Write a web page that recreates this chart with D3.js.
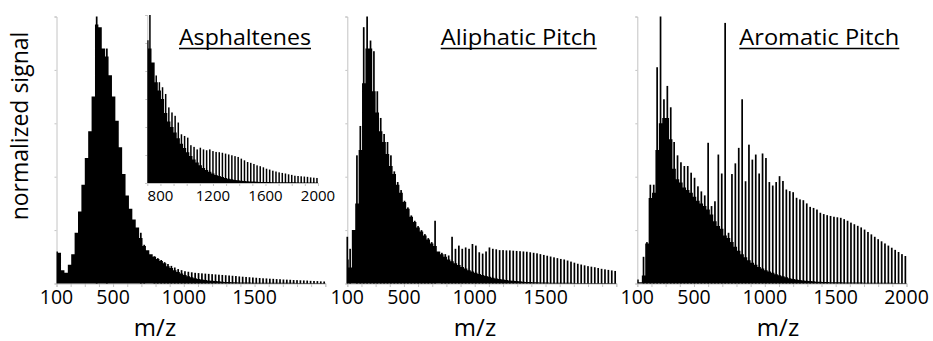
<!DOCTYPE html>
<html><head><meta charset="utf-8">
<script src="https://cdn.jsdelivr.net/npm/d3@7"></script>
<style>
body{margin:0;background:#fff}
text{font-family:"Open Sans","Noto Sans",sans-serif;fill:#000}
</style>
</head><body>
<svg id="chart" width="933" height="341"></svg>
<script>
// m/z grid (C2 spacing, 24 Da)
const MZ = [96,120,144,168,192,216,240,264,288,312,336,360,384,408,432,456,480,504,528,552,576,600,624,648,672,696,720,744,768,792,816,840,864,888,912,936,960,984,1008,1032,1056,1080,1104,1128,1152,1176,1200,1224,1248,1272,1296,1320,1344,1368,1392,1416,1440,1464,1488,1512,1536,1560,1584,1608,1632,1656,1680,1704,1728,1752,1776,1800,1824,1848,1872,1896,1920,1944,1968,1992];

// Asphaltenes: continuum and cluster peaks (normalized signal, 0-100)
const ASPH_BASE = [12,11.5,5,4,7,11,19,27,37,47,57,70,97,96,88,85,78,70,61,51,41,33,28,24,21,17,14,12.5,11,10,9.2,8.4,7.6,6.5,5.8,5.0,4.3,3.7,3.2,2.7,2.3,2.0,1.7,1.5,1.3,1.1,1.0,0.9,0.8,0.7,0.6,0.55,0.5,0.45,0.4,0.4,0.35,0.35,0.3,0.3,0.3,0.3,0.3,0.3,0.3,0.25,0.25,0.25,0.25,0.25,0.25,0.2,0.2,0.2,0.2,0.2,0.2,0.2,0.2,0.2];
const ASPH_PEAK = [12,11.5,5,4,7,11,19,27,37,47,57,70,100,96,88,88,78,70,61,51,41,33,28,24,21,19,14.5,12.5,11,10.2,9.5,8.8,8,7.3,6.6,6.0,5.4,5.0,4.6,4.4,4.2,4.0,3.9,3.8,3.7,3.6,3.5,3.4,3.3,3.2,3.1,3.0,2.9,2.8,2.65,2.55,2.45,2.35,2.25,2.15,2.05,1.95,1.9,1.8,1.75,1.65,1.6,1.5,1.45,1.4,1.3,1.25,1.2,1.15,1.1,1.0,0.95,0.9,0.8,0.75];

// Aliphatic pitch
const ALIP_BASE = [9,6,20,30,50,75,88,88,72,64,57,53,48.5,44,41,37,34,30.5,28,25,23,21,19.5,18,16.5,15,14,12,11,10,9,8.3,7.6,6.9,6.2,5.6,5,4.5,4,3.6,3.2,2.8,2.5,2.2,1.9,1.7,1.5,1.3,1.1,1.0,0.9,0.8,0.7,0.6,0.55,0.5,0.45,0.4,0.4,0.35,0.3,0.3,0.3,0.25,0.25,0.25,0.25,0.2,0.2,0.2,0.2,0.2,0.2,0.2,0.2,0.2,0.2,0.2,0.2,0.2];
const ALIP_PEAK = [17.5,13,20,48,59,96,100,91,87,72,62,56,53,48,42,38,35,31,28.5,25.5,23.5,21.5,20,18.5,17,15.5,23.5,12,11.5,11,10.5,17.5,13,14.2,13,13.5,13,14.8,14.2,11.7,11.2,12,13.5,13,12.8,12.5,12.5,12.4,12.4,12.3,12.2,12.1,12,11.9,11.7,11.5,11.3,11,10.7,10.4,10.1,9.8,9.5,9.2,9.0,8.6,8.2,7.8,7.4,7.1,6.8,6.5,6.3,6.1,5.8,5.5,5.3,5.1,4.9,4.7];

// Aromatic pitch
const AROM_BASE = [1.5,0.5,3,15,32,34,50,60,62,62,54,43,39,37.8,36,35,34,32.5,31,30,29,27.7,25.8,23.3,21.5,20.5,18,17,15.5,13.8,12.3,11,9.8,8.7,7.8,7,6.2,5.6,5,4.5,4,3.5,3.1,2.7,2.3,2.0,1.7,1.5,1.3,1.1,1.0,0.9,0.8,0.7,0.65,0.6,0.55,0.5,0.5,0.45,0.45,0.4,0.4,0.4,0.35,0.35,0.35,0.3,0.3,0.3,0.3,0.3,0.25,0.25,0.25,0.25,0.2,0.2,0.2,0.2];
const AROM_PEAK = [1.5,0.5,10,15.5,37,37,81,100,69,74,66,53,48,45.4,44,44,41.5,39.6,36.4,34.5,33,52.7,29,30.8,48.3,41.2,97.6,19,41,45,50.8,69,38.3,52,46.4,48.3,41.2,48.7,47,38,36.7,38,40.2,38.4,35.2,34.6,34.2,32.1,31.5,31.2,30,28.7,28.3,27.7,26.5,26,25.6,25.3,25,24.8,24.6,24.1,23.5,22.8,22.2,21.6,21,20.2,19.3,18.4,17.5,16.6,15.8,15,14.2,13.4,12.6,11.8,11,10.3];

// Asphaltenes inset (m/z >= 696), own scale 0-60
const INSET_MZ = MZ.filter(m => m >= 696);
const INSET_BASE = [51,48,43,36,33,30,25,22,20,18,16,14,12.5,11,9.6,8.4,7.3,6.3,5.4,4.6,4,3.4,2.9,2.5,2.1,1.8,1.5,1.3,1.1,0.95,0.8,0.7,0.6,0.55,0.5,0.45,0.4,0.4,0.35,0.35,0.3,0.3,0.3,0.3,0.25,0.25,0.25,0.25,0.2,0.2,0.2,0.2,0.2,0.2,0.2];
const INSET_PEAK = [51,60,42.6,38.4,36,34.2,31.8,27,25.2,24,21.6,17.4,16.8,16.2,13.5,12.9,12,12.6,12,11.7,12,11.4,11.1,11,10.8,10.5,10.2,9.9,9.6,9.3,8.7,8.1,7.5,7.2,6.8,6.3,6,5.6,5.1,4.8,4.4,4.1,3.8,3.6,3.4,3.1,2.9,2.6,2.5,2.4,2.3,2.2,2.0,1.9,1.8];

const X_TICKS = [100,200,300,400,500,600,700,800,900,1000,1100,1200,1300,1400,1500,1600,1700,1800,1900,2000];
const Y_TICKS = [0,20,40,60,80,100];
const LABELS_A = [100,500,1000,1500];
const LABELS_B = [100,500,1000,1500,2000];
const INSET_X_TICKS = [800,900,1000,1100,1200,1300,1400,1500,1600,1700,1800,1900,2000];
const INSET_LABELS = [800,1200,1600,2000];
const INSET_Y_TICKS = [0,10,20,30,40,50,60];
const TITLES = ["Asphaltenes","Aliphatic Pitch","Aromatic Pitch"];

const svg = d3.select("#chart");
const AXIS_GRAY = "#c4c4c4";

const panels = [
  {x0:56.5, x1:325.3, base:ASPH_BASE, peak:ASPH_PEAK, labels:LABELS_A, title:TITLES[0], tx:179, tw:132, mzx:155},
  {x0:347.3, x1:616.3, base:ALIP_BASE, peak:ALIP_PEAK, labels:LABELS_A, title:TITLES[1], tx:440.7, tw:156, mzx:475},
  {x0:637.3, x1:906.5, base:AROM_BASE, peak:AROM_PEAK, labels:LABELS_B, title:TITLES[2], tx:739.3, tw:160, mzx:778}
];

function drawSpectrum(g, xs, ys, mz, base, peak, spikeW) {
  const y0 = ys(0);
  const pts = mz.map((m, i) => ({m, v: base[i]}));
  const last = mz[mz.length - 1];
  pts.push({m: last + 12, v: base[base.length - 1]});
  const area = d3.area()
    .x(d => xs(d.m))
    .y0(y0)
    .y1(d => ys(d.v))
    .curve(d3.curveStep);
  g.append("path").datum(pts).attr("d", area).attr("fill", "#000");
  g.selectAll("rect.peak").data(mz.map((m, i) => ({m, i})).filter(d => peak[d.i] > base[d.i]))
    .join("rect").attr("class","peak")
    .attr("x", d => xs(d.m) - spikeW / 2)
    .attr("width", spikeW)
    .attr("y", d => ys(peak[d.i]))
    .attr("height", d => y0 - ys(peak[d.i]))
    .attr("fill", "#000");
}

function styleAxis(g) {
  g.select(".domain").attr("stroke", AXIS_GRAY).attr("stroke-width", 1);
  g.selectAll(".tick line").attr("stroke", AXIS_GRAY).attr("stroke-width", 1);
  g.selectAll(".tick text").remove();
}

panels.forEach(p => {
  const xs = d3.scaleLinear().domain([100, 2000]).range([p.x0, p.x1]).clamp(true);
  const ys = d3.scaleLinear().domain([0, 100]).range([283.5, 16.5]);
  const g = svg.append("g");

  const gx = g.append("g").attr("transform", "translate(0,283.5)")
    .call(d3.axisBottom(xs).tickValues(X_TICKS).tickSizeOuter(0).tickSize(3.5).tickFormat(""));
  styleAxis(gx);
  const gy = g.append("g").attr("transform", `translate(${p.x0},0)`)
    .call(d3.axisLeft(ys).tickValues(Y_TICKS).tickSizeOuter(0).tickSize(2).tickFormat(""));
  styleAxis(gy);

  drawSpectrum(g.append("g"), xs, ys, MZ, p.base, p.peak, 1.7);

  g.selectAll("text.xl").data(p.labels).join("text").attr("class","xl")
    .attr("x", d => xs(d)).attr("y", 304).attr("text-anchor","middle")
    .attr("font-size", 19.5).text(d => d);

  g.append("text").attr("x", p.mzx).attr("y", 335.5).attr("text-anchor","middle")
    .attr("font-size", 24).text("m/z");

  g.append("text").attr("x", p.tx).attr("y", 45).attr("font-size", 22)
    .attr("textLength", p.tw).attr("lengthAdjust", "spacingAndGlyphs").text(p.title);
  g.append("line").attr("x1", p.tx).attr("x2", p.tx + p.tw).attr("y1", 48.5).attr("y2", 48.5)
    .attr("stroke", "#000").attr("stroke-width", 1.5);
});

// inset
{
  const xs = d3.scaleLinear().domain([700, 2000]).range([147.3, 318]).clamp(true);
  const ys = d3.scaleLinear().domain([0, 60]).range([183, 15]);
  const g = svg.append("g");
  const gx = g.append("g").attr("transform", "translate(0,183)")
    .call(d3.axisBottom(xs).tickValues(INSET_X_TICKS).tickSizeOuter(0).tickSize(3).tickFormat(""));
  styleAxis(gx);
  const gy = g.append("g").attr("transform", "translate(147.3,0)")
    .call(d3.axisLeft(ys).tickValues(INSET_Y_TICKS).tickSizeOuter(0).tickSize(2).tickFormat(""));
  styleAxis(gy);
  drawSpectrum(g.append("g"), xs, ys, INSET_MZ, INSET_BASE, INSET_PEAK, 1.5);
  g.selectAll("text.il").data(INSET_LABELS).join("text").attr("class","il")
    .attr("x", d => xs(d)).attr("y", 200.5).attr("text-anchor","middle")
    .attr("font-size", 15).text(d => d);
}

svg.append("text").attr("transform", "translate(27.5,126) rotate(-90)")
  .attr("text-anchor","middle").attr("font-size", 23).text("normalized signal");
</script>
</body></html>
